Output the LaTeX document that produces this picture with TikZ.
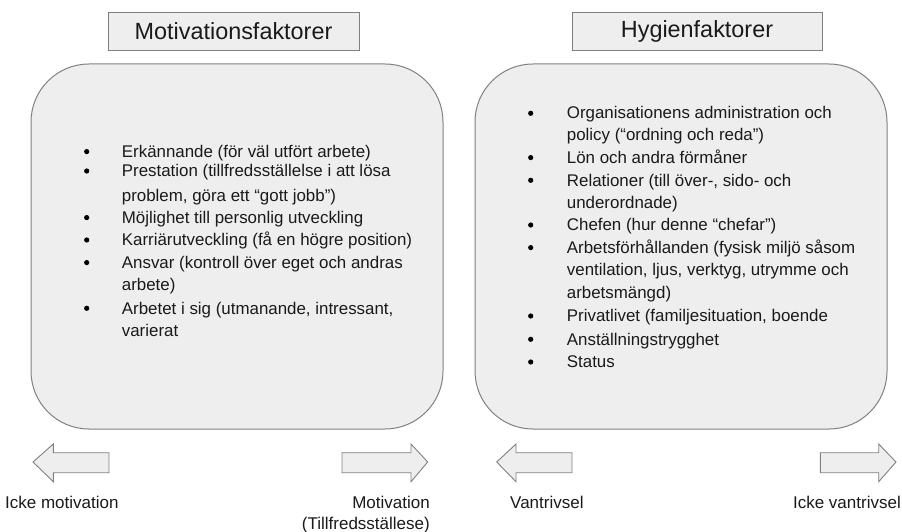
\documentclass[tikz,border=0pt]{standalone}
\usepackage{fontspec}
\setmainfont{Liberation Sans}
\definecolor{boxfill}{HTML}{EEEEEE}
\definecolor{boxline}{HTML}{808080}
\definecolor{txt}{HTML}{1A1A1A}
\begin{document}
\begin{tikzpicture}[x=1pt,y=-1pt,
  panel/.style={draw=boxline,fill=boxfill,line width=1pt,rounded corners=58pt},
  titlebox/.style={draw=boxline,fill=boxfill,line width=0.9pt,minimum height=38pt,inner sep=0pt,font=\fontsize{23.4}{28}\selectfont,text=txt},
  item/.style={anchor=base west,inner sep=0pt,font=\fontsize{16.9}{20}\selectfont,text=txt},
  lab/.style={inner sep=0pt,font=\fontsize{17}{20}\selectfont,text=txt},
  fatarrow/.style={draw=boxline,fill=boxfill,line width=0.9pt,line join=miter}]
\useasboundingbox (0,0) rectangle (902,532);
% title boxes
\node[titlebox,minimum width=251pt] (tm) at (233.5,31) {Motivationsfaktorer};
\node[titlebox,minimum width=250pt] (th) at (697,31) {Hygienfaktorer};
% panels
\draw[panel] (31,64) rectangle (443,429);
\draw[panel] (475,64) rectangle (887,429);
% left list
\foreach \y in {157.3,176.7,223.3,245.7,268.3,314}{\fill[black] (86.7,\y-5.7) circle[radius=2.6];}
\node[item] (l1) at (121.7,157.3) {Erkännande (för väl utfört arbete)};
\node[item] (l2) at (121.7,176.7) {Prestation (tillfredsställelse i att lösa};
\node[item] (l3) at (121.7,201) {problem, göra ett “gott jobb”)};
\node[item] (l4) at (121.7,223.3) {Möjlighet till personlig utveckling};
\node[item] (l5) at (121.7,245.7) {Karriärutveckling (få en högre position)};
\node[item] (l6) at (121.7,268.3) {Ansvar (kontroll över eget och andras};
\node[item] (l7) at (121.7,290.7) {arbete)};
\node[item] (l8) at (121.7,314) {Arbetet i sig (utmanande, intressant,};
\node[item] (l9) at (121.7,336.7) {varierat};
% right list
\foreach \y in {119,163.3,186,230.7,253.3,321.7,345,367.7}{\fill[black] (530.7,\y-5.7) circle[radius=2.6];}
\node[item] (r1) at (566.7,119) {Organisationens administration och};
\node[item] (r2) at (566.7,141) {policy (“ordning och reda”)};
\node[item] (r3) at (566.7,163.3) {Lön och andra förmåner};
\node[item] (r4) at (566.7,186) {Relationer (till över-, sido- och};
\node[item] (r5) at (566.7,208.3) {underordnade)};
\node[item] (r6) at (566.7,230.7) {Chefen (hur denne “chefar”)};
\node[item] (r7) at (566.7,253.3) {Arbetsförhållanden (fysisk miljö såsom};
\node[item] (r8) at (566.7,275.7) {ventilation, ljus, verktyg, utrymme och};
\node[item] (r9) at (566.7,298.3) {arbetsmängd)};
\node[item] (r10) at (566.7,321.7) {Privatlivet (familjesituation, boende};
\node[item] (r11) at (566.7,345) {Anställningstrygghet};
\node[item] (r12) at (566.7,367.7) {Status};
% arrows
\draw[fatarrow] (33,462) -- (53.3,444) -- (53.3,452.7) -- (109,452.7) -- (109,472.7) -- (53.3,472.7) -- (53.3,481.7) -- cycle;
\draw[fatarrow] (427.7,462) -- (411,444) -- (411,452.7) -- (342,452.7) -- (342,472.7) -- (411,472.7) -- (411,481.7) -- cycle;
\draw[fatarrow] (496.7,462) -- (516,444) -- (516,452.7) -- (572,452.7) -- (572,472.7) -- (516,472.7) -- (516,481.7) -- cycle;
\draw[fatarrow] (896,462) -- (878.7,444) -- (878.7,452.7) -- (820.3,452.7) -- (820.3,472.7) -- (878.7,472.7) -- (878.7,481.7) -- cycle;
% labels
\node[lab,anchor=base west] (a1) at (5,508.3) {Icke motivation};
\node[lab,anchor=base east] (a2) at (430,508.3) {Motivation};
\node[lab,anchor=base east] (a3) at (430,529.3) {(Tillfredsställese)};
\node[lab,anchor=base west] (a4) at (510,508.3) {Vantrivsel};
\node[lab,anchor=base east] (a5) at (901,508.3) {Icke vantrivsel};
\end{tikzpicture}
\end{document}
